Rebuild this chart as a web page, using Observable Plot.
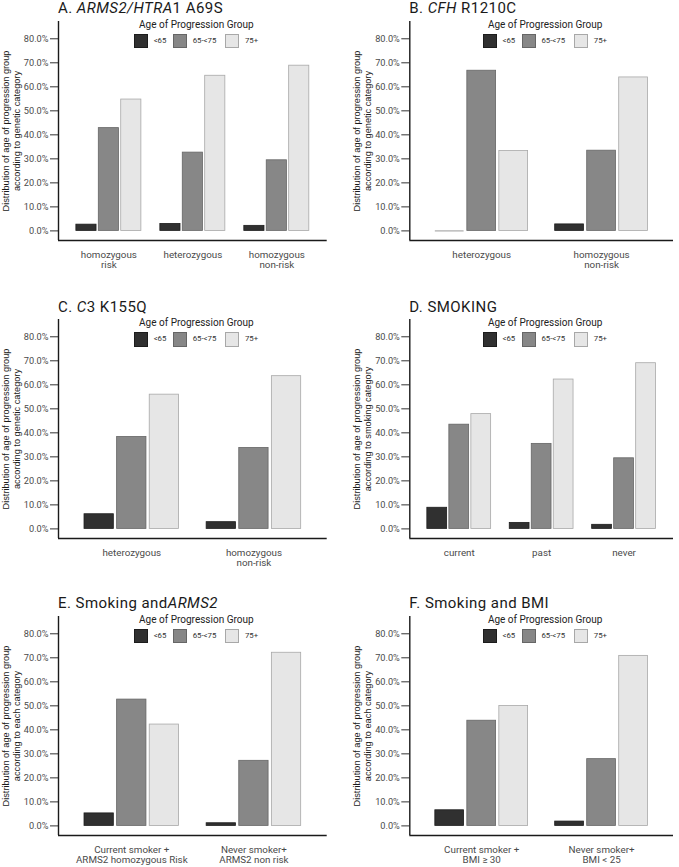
<!DOCTYPE html>
<html>
<head>
<meta charset="utf-8">
<script src="https://cdn.jsdelivr.net/npm/d3@7"></script>
<script src="https://cdn.jsdelivr.net/npm/@observablehq/plot@0.6"></script>
<style>
  html, body { margin: 0; padding: 0; background: #fff; overflow: hidden; }
  #root { position: relative; width: 679px; height: 867px; font-family: Roboto, sans-serif; }
  .ptitle { position: absolute; font-size: 15px; line-height: 15px; color: #1a1a1a; white-space: nowrap; letter-spacing: 0.45px; }
  .panel { position: absolute; }
  .lg-title { position: absolute; font-size: 10px; line-height: 12px; color: #222; white-space: nowrap; transform: translateX(-50%); }
  .lg-sw { position: absolute; box-sizing: border-box; width: 14.5px; height: 14.5px; border: 1px solid; }
  .lg-lab { position: absolute; font-size: 7.8px; line-height: 10px; color: #333; white-space: nowrap; }
</style>
</head>
<body>
<div id="root"></div>
<script>
// ---------- data ----------
const groups = ["<65", "65-<75", "75+"];
const groupFills = ["#303030", "#878787", "#e6e6e6"];
const groupStrokes = ["#1c1c1c", "#666666", "#a8a8a8"];
const yTicks = [0, 10, 20, 30, 40, 50, 60, 70, 80];

const aCategories = ["homozygous\nrisk", "heterozygous", "homozygous\nnon-risk"];
const aUnder65 = [2.6, 2.9, 2.1];
const a65to75 = [42.8, 32.6, 29.4];
const a75plus = [54.7, 64.6, 68.8];

const bCategories = ["heterozygous", "homozygous\nnon-risk"];
const bUnder65 = [0, 2.7];
const b65to75 = [66.7, 33.4];
const b75plus = [33.3, 63.9];

const cCategories = ["heterozygous", "homozygous\nnon-risk"];
const cUnder65 = [6.1, 2.8];
const c65to75 = [38.3, 33.7];
const c75plus = [55.9, 63.6];

const dCategories = ["current", "past", "never"];
const dUnder65 = [8.8, 2.5, 1.7];
const d65to75 = [43.4, 35.4, 29.4];
const d75plus = [47.8, 62.2, 69.0];

const eCategories = ["Current smoker +\nARMS2 homozygous Risk", "Never smoker+\nARMS2 non risk"];
const eUnder65 = [5.2, 1.1];
const e65to75 = [52.6, 27.1];
const e75plus = [42.2, 72.1];

const fCategories = ["Current smoker +\nBMI \u2265 30", "Never smoker+\nBMI < 25"];
const fUnder65 = [6.5, 1.8];
const f65to75 = [43.8, 27.8];
const f75plus = [49.9, 70.8];

const panels = [
  {title: "A. <i>ARMS2/HTRA</i>1 A69S", yTitle: "Distribution of age of progression group\naccording to genetic category",
   categories: aCategories, series: [aUnder65, a65to75, a75plus], row: 0, col: 0},
  {title: "B. <i>CFH</i> R1210C", yTitle: "Distribution of age of progression group\naccording to genetic category",
   categories: bCategories, series: [bUnder65, b65to75, b75plus], row: 0, col: 1},
  {title: "C. <i>C</i>3 K155Q", yTitle: "Distribution of age of progression group\naccording to genetic category",
   categories: cCategories, series: [cUnder65, c65to75, c75plus], row: 1, col: 0},
  {title: "D. SMOKING", yTitle: "Distribution of age of progression group\naccording to smoking category",
   categories: dCategories, series: [dUnder65, d65to75, d75plus], row: 1, col: 1},
  {title: "E. Smoking and<i>ARMS2</i>", yTitle: "Distribution of age of progression group\naccording to each category",
   categories: eCategories, series: [eUnder65, e65to75, e75plus], row: 2, col: 0},
  {title: "F. Smoking and BMI", yTitle: "Distribution of age of progression group\naccording to each category",
   categories: fCategories, series: [fUnder65, f65to75, f75plus], row: 2, col: 1}
];

// ---------- layout ----------
const colLeft = [0, 340];
const svgWidth = 339;
const marginLefts = [58, 69.3];
const marginRights = [12.3, 6];
const axisTops = [21, 319.3, 616];
const marginTop = 21, frameH = 219, marginBottom = 31;
const dodgeStep = 0.267, barWidth = 0.24;

const root = document.getElementById("root");

panels.forEach(p => {
  const n = p.categories.length;
  const rows = [];
  p.series.forEach((vals, gi) => vals.forEach((v, ci) => rows.push({ci: ci + 1, gi, group: groups[gi], value: v})));
  const ml = marginLefts[p.col], mr = marginRights[p.col];
  const svgLeft = colLeft[p.col];
  const axisTop = axisTops[p.row];
  const svgTop = axisTop - marginTop;

  const barMarks = groups.map((g, gi) => Plot.rectY(rows.filter(d => d.gi === gi && d.value > 0), {
    x1: d => d.ci + (d.gi - 1) * dodgeStep - barWidth / 2,
    x2: d => d.ci + (d.gi - 1) * dodgeStep + barWidth / 2,
    y1: 0, y2: "value",
    fill: groupFills[gi], stroke: groupStrokes[gi], strokeWidth: 0.8
  }));
  const zeroMarks = Plot.ruleY(rows.filter(d => d.value === 0), {
    x1: d => d.ci + (d.gi - 1) * dodgeStep - barWidth / 2,
    x2: d => d.ci + (d.gi - 1) * dodgeStep + barWidth / 2,
    y: "value", stroke: "#aaaaaa", strokeWidth: 1.2
  });

  const chart = Plot.plot({
    width: svgWidth,
    height: marginTop + frameH + marginBottom,
    marginLeft: ml, marginRight: mr, marginTop, marginBottom,
    style: {fontFamily: "Roboto, sans-serif", fontSize: "9px", background: "transparent", overflow: "visible"},
    x: {type: "linear", domain: [0.4, n + 0.6], label: null},
    y: {domain: [-4, 87.2], label: null},
    marks: [
      ...barMarks,
      zeroMarks,
      Plot.axisY(yTicks, {tickFormat: d => d.toFixed(1) + "%", tickSize: 8, tickPadding: 2, fontSize: 9.2, fill: "#4a4a4a", stroke: "#333", label: null}),
      Plot.axisX(d3.range(1, n + 1), {tickFormat: i => p.categories[i - 1], tickSize: 0, tickPadding: 10, fontSize: 9.8, fill: "#4a4a4a", lineHeight: 1.05, label: null}),
      Plot.ruleX([0.4], {stroke: "#1a1a1a", strokeWidth: 1.4}),
      Plot.ruleY([-4], {stroke: "#1a1a1a", strokeWidth: 1.4}),
      Plot.text([p.yTitle], {text: d => d, frameAnchor: "left", textAnchor: "middle", lineAnchor: "middle", dx: -47.5, rotate: -90, fontSize: 9.2,
        fontFamily: "'Liberation Sans', Arial, sans-serif", lineHeight: 1.2, fill: "#1a1a1a"})
    ]
  });
  const wrap = document.createElement("div");
  wrap.className = "panel";
  wrap.style.left = svgLeft + "px";
  wrap.style.top = svgTop + "px";
  wrap.appendChild(chart);
  root.appendChild(wrap);

  // title
  const t = document.createElement("div");
  t.className = "ptitle";
  t.innerHTML = p.title;
  t.style.left = (svgLeft + ml) + "px";
  t.style.top = (axisTop - 19.8) + "px";
  root.appendChild(t);

  // legend
  const frameW = svgWidth - ml - mr;
  const cx = svgLeft + ml + frameW / 2 + 4;
  const lt = document.createElement("div");
  lt.className = "lg-title";
  lt.textContent = "Age of Progression Group";
  lt.style.left = cx + "px";
  lt.style.top = (axisTop + 3.5 - 6) + "px";
  root.appendChild(lt);
  const swOff = [-62.4, -23.4, 28.6];
  const labOff = [-42.7, -3.7, 48.6];
  groups.forEach((g, gi) => {
    const sw = document.createElement("div");
    sw.className = "lg-sw";
    sw.style.left = (cx + swOff[gi]) + "px";
    sw.style.top = (axisTop + 12.8) + "px";
    sw.style.background = groupFills[gi];
    sw.style.borderColor = groupStrokes[gi];
    root.appendChild(sw);
    const lb = document.createElement("div");
    lb.className = "lg-lab";
    lb.textContent = g;
    lb.style.left = (cx + labOff[gi]) + "px";
    lb.style.top = (axisTop + 20 - 5) + "px";
    root.appendChild(lb);
  });
});
</script>
</body>
</html>
